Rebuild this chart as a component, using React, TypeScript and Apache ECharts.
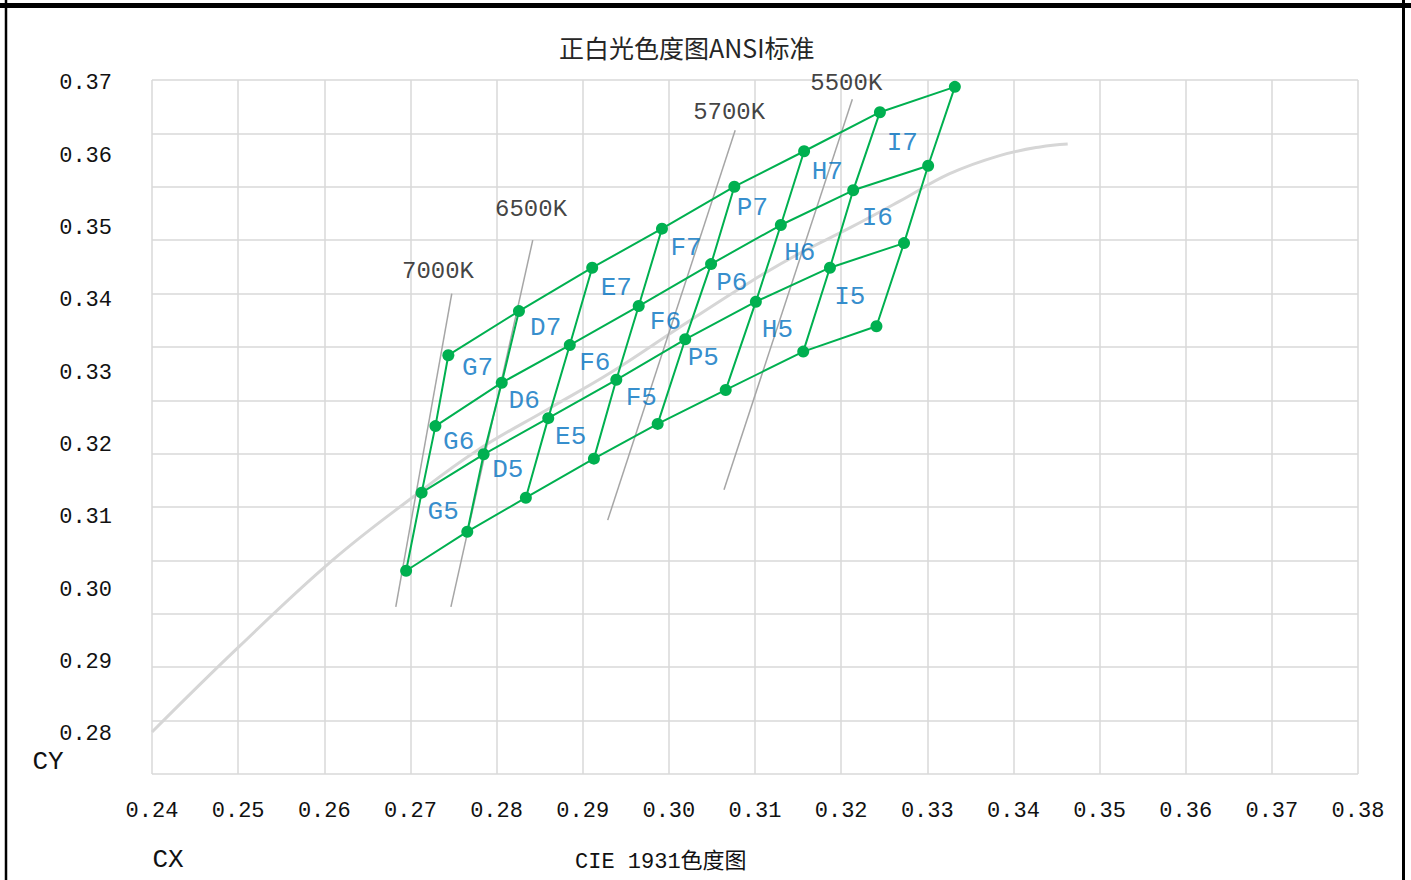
import React, { useEffect, useRef } from "react";
import * as echarts from "echarts";

// Bin grid vertices: 8 columns (u) x 4 rows (r)
const binX: number[][] = [
  [0.2695, 0.2713, 0.2729, 0.2744],
  [0.2766, 0.2785, 0.2806, 0.2826],
  [0.2834, 0.2860, 0.2885, 0.2911],
  [0.2913, 0.2939, 0.2965, 0.2992],
  [0.2987, 0.3019, 0.3049, 0.3076],
  [0.3066, 0.3101, 0.3130, 0.3157],
  [0.3156, 0.3187, 0.3214, 0.3245],
  [0.3241, 0.3273, 0.3301, 0.3332],
];
const binY: number[][] = [
  [0.3027, 0.3135, 0.3227, 0.3325],
  [0.3081, 0.3188, 0.3287, 0.3386],
  [0.3128, 0.3238, 0.3339, 0.3446],
  [0.3182, 0.3291, 0.3393, 0.3500],
  [0.3230, 0.3347, 0.3451, 0.3558],
  [0.3277, 0.3399, 0.3505, 0.3607],
  [0.3330, 0.3446, 0.3553, 0.3661],
  [0.3365, 0.3480, 0.3587, 0.3696],
];

// Bin names and label positions
const binNames = [
  "G5", "G6", "G7",
  "D5", "D6", "D7",
  "E5", "F6", "E7",
  "F5", "F6", "F7",
  "P5", "P6", "P7",
  "H5", "H6", "H7",
  "I5", "I6", "I7",
];
const binLabelX = [
  0.2738, 0.2756, 0.2778,
  0.2813, 0.2832, 0.2857,
  0.2886, 0.2914, 0.2939,
  0.2968, 0.2996, 0.3020,
  0.3040, 0.3073, 0.3097,
  0.3126, 0.3152, 0.3184,
  0.3210, 0.3242, 0.3271,
];
const binLabelY = [
  0.3108, 0.3205, 0.3307,
  0.3166, 0.3262, 0.3363,
  0.3212, 0.3314, 0.3418,
  0.3266, 0.3371, 0.3473,
  0.3321, 0.3425, 0.3529,
  0.3360, 0.3466, 0.3578,
  0.3406, 0.3515, 0.3618,
];

// Planckian locus (grey curve)
const locusX = [0.2400, 0.2501, 0.2610, 0.2703, 0.2777, 0.2862, 0.2934, 0.3013, 0.3094, 0.3152, 0.3210, 0.3268, 0.3326, 0.3384, 0.3431, 0.3463];
const locusY = [0.2804, 0.2922, 0.3042, 0.3129, 0.3193, 0.3252, 0.3302, 0.3364, 0.3426, 0.3466, 0.3501, 0.3538, 0.3576, 0.3601, 0.3613, 0.3617];

// Isotherm lines (CCT)
const cctNames = ["7000K", "6500K", "5700K", "5500K"];
const cctX0 = [0.2683, 0.2747, 0.2929, 0.3064];
const cctY0 = [0.2977, 0.2977, 0.3097, 0.3139];
const cctX1 = [0.2748, 0.2842, 0.3077, 0.3213];
const cctY1 = [0.3410, 0.3484, 0.3636, 0.3679];
const cctLabelX = [0.2732, 0.2840, 0.3070, 0.3206];
const cctLabelY = [0.3441, 0.3526, 0.3661, 0.3701];

// Axis ticks
const yTickLabels = [0.28, 0.29, 0.30, 0.31, 0.32, 0.33, 0.34, 0.35, 0.36, 0.37];
const xMin = 0.24;
const xMax = 0.38;
const xStep = 0.01;

const GREEN = "#00B050";
const BLUE = "#0070C0";
const MONO = "'Liberation Mono', 'DejaVu Sans Mono', monospace";

export default function App() {
  const ref = useRef<HTMLDivElement>(null);

  useEffect(() => {
    document.body.style.margin = "0";
    const chart = echarts.init(ref.current!, undefined, { renderer: "svg" });

    const series: any[] = [];

    // Planckian locus
    series.push({
      type: "line",
      data: locusX.map((x, i) => [x, locusY[i]]),
      smooth: 0.4,
      showSymbol: false,
      lineStyle: { color: "#D6D6D6", width: 3 },
      z: 1,
      silent: true,
    });

    // Isotherms
    cctNames.forEach((_, i) => {
      series.push({
        type: "line",
        data: [
          [cctX0[i], cctY0[i]],
          [cctX1[i], cctY1[i]],
        ],
        showSymbol: false,
        lineStyle: { color: "#A6A6A6", width: 1.5 },
        z: 2,
        silent: true,
      });
    });

    // Green column lines
    binX.forEach((col, u) => {
      series.push({
        type: "line",
        data: col.map((x, r) => [x, binY[u][r]]),
        showSymbol: false,
        lineStyle: { color: GREEN, width: 2 },
        z: 3,
        silent: true,
      });
    });
    // Green row lines
    for (let r = 0; r < 4; r++) {
      series.push({
        type: "line",
        data: binX.map((col, u) => [col[r], binY[u][r]]),
        showSymbol: false,
        lineStyle: { color: GREEN, width: 2 },
        z: 3,
        silent: true,
      });
    }
    // Dots
    const dots: number[][] = [];
    binX.forEach((col, u) => col.forEach((x, r) => dots.push([x, binY[u][r]])));
    series.push({
      type: "scatter",
      data: dots,
      symbolSize: 12,
      itemStyle: { color: GREEN, opacity: 1 },
      z: 4,
      silent: true,
    });

    // Bin labels
    series.push({
      type: "scatter",
      data: binNames.map((n, i) => ({ name: n, value: [binLabelX[i], binLabelY[i]] })),
      symbolSize: 1,
      itemStyle: { color: "transparent" },
      label: {
        show: true,
        position: "inside",
        formatter: (p: any) => p.name,
        color: BLUE,
        fontFamily: MONO,
        fontSize: 26,
      },
      z: 5,
      silent: true,
    });

    // CCT labels
    series.push({
      type: "scatter",
      data: cctNames.map((n, i) => ({ name: n, value: [cctLabelX[i], cctLabelY[i]] })),
      symbolSize: 1,
      itemStyle: { color: "transparent" },
      label: {
        show: true,
        position: "inside",
        formatter: (p: any) => p.name,
        color: "#111",
        fontFamily: MONO,
        fontSize: 24,
      },
      z: 5,
      silent: true,
    });

    chart.setOption({
      animation: false,
      backgroundColor: "#fff",
      title: {
        text: "正白光色度图ANSI标准",
        left: 554,
        top: 29,
        textStyle: {
          fontFamily: "'Noto Sans CJK SC', sans-serif",
          fontSize: 25,
          fontWeight: "normal",
          color: "#262626",
        },
      },
      grid: { left: 152, right: 53, top: 80, bottom: 106, containLabel: false },
      xAxis: {
        type: "value",
        min: xMin,
        max: xMax,
        interval: xStep,
        axisLine: { show: false },
        axisTick: { show: false },
        splitLine: { show: true, lineStyle: { color: "#D9D9D9", width: 1.5 } },
        axisLabel: {
          formatter: (v: number) => v.toFixed(2),
          fontFamily: MONO,
          fontSize: 22,
          color: "#111",
          margin: 26,
          showMinLabel: true,
          showMaxLabel: true,
        },
      },
      yAxis: [
        {
          type: "value",
          min: 0.2746,
          max: 0.37055,
          position: "left",
          axisLine: { show: false },
          axisTick: { show: false },
          splitLine: { show: false },
          axisLabel: {
            customValues: yTickLabels,
            formatter: (v: number) => v.toFixed(2),
            fontFamily: MONO,
            fontSize: 22,
            color: "#111",
            margin: 40,
            padding: [4, 0, 0, 0],
          },
        },
        {
          type: "value",
          min: 0,
          max: 13,
          interval: 1,
          position: "right",
          axisLine: { show: false },
          axisTick: { show: false },
          axisLabel: { show: false },
          splitLine: { show: true, lineStyle: { color: "#D9D9D9", width: 1.5 } },
        },
      ],
      graphic: [
        {
          type: "line",
          shape: { x1: 6, y1: 0, x2: 6, y2: 880 },
          style: { stroke: "#000", lineWidth: 2.5 },
        },
        {
          type: "line",
          shape: { x1: 1403.5, y1: 0, x2: 1403.5, y2: 880 },
          style: { stroke: "#000", lineWidth: 3 },
        },
        {
          type: "line",
          shape: { x1: 0, y1: 5.5, x2: 1411, y2: 5.5 },
          style: { stroke: "#000", lineWidth: 5 },
        },
        {
          type: "text",
          x: 48,
          y: 762,
          style: {
            text: "CY",
            font: `26px ${MONO}`,
            fill: "#111",
            textAlign: "center",
            textVerticalAlign: "middle",
          },
        },
        {
          type: "text",
          x: 168,
          y: 860,
          style: {
            text: "CX",
            font: `26px ${MONO}`,
            fill: "#111",
            textAlign: "center",
            textVerticalAlign: "middle",
          },
        },
        {
          type: "text",
          x: 575,
          y: 862,
          style: {
            text: "CIE 1931色度图",
            font: `22px ${MONO}, 'Noto Sans CJK SC'`,
            fill: "#111",
            textAlign: "left",
            textVerticalAlign: "middle",
          },
        },
      ],
      series,
    });

    return () => chart.dispose();
  }, []);

  return <div ref={ref} style={{ width: 1411, height: 880 }} />;
}
